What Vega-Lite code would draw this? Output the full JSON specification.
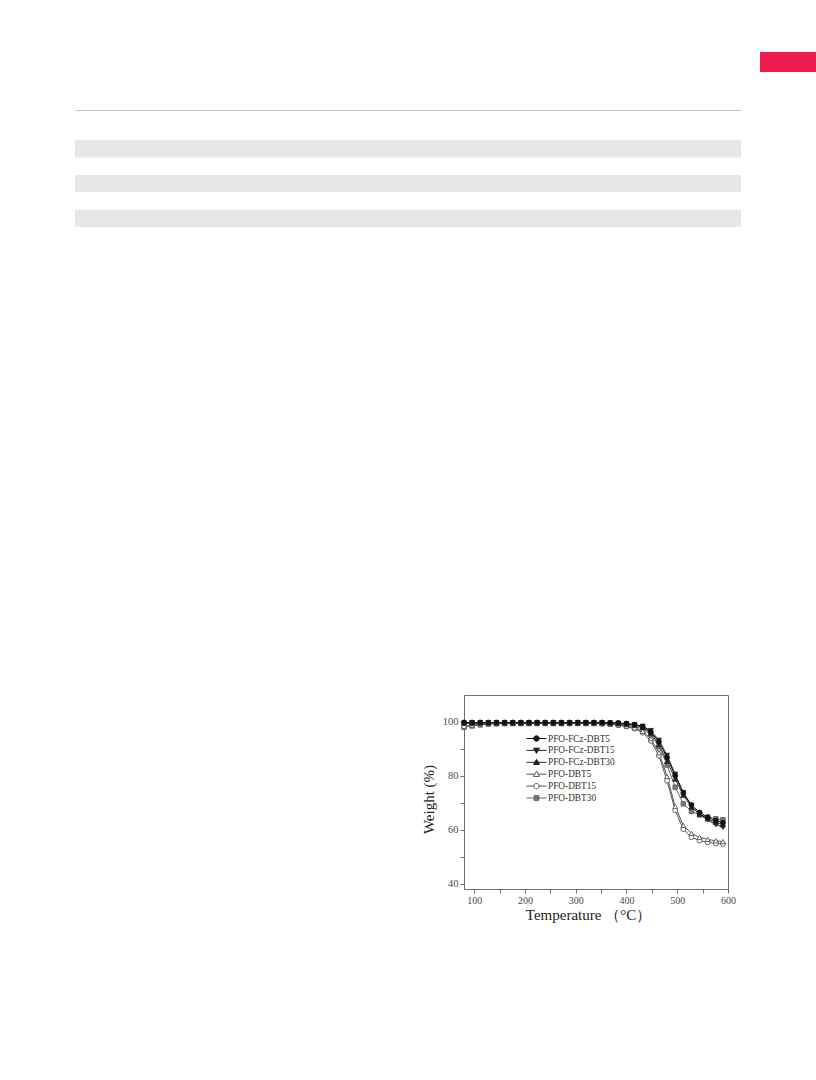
{
  "$schema": "https://vega.github.io/schema/vega-lite/v6.json",
  "background": "#ffffff",
  "padding": {"left": 0, "top": 52, "right": 0, "bottom": 0},
  "config": {
    "view": {"stroke": null},
    "font": "Liberation Serif"
  },
  "bounds": "flush",
  "spacing": 71,
  "resolve": {"scale": {"stroke": "independent"}, "legend": {"stroke": "independent"}},
  "vconcat": [
    {
      "bounds": "flush",
      "spacing": 0,
      "hconcat": [
        {
          "width": 760, "height": 20,
          "data": {"values": [{}]},
          "mark": {"type": "point", "opacity": 0},
          "encoding": {}
        },
        {
          "width": 56, "height": 20,
          "view": {"fill": "#ED1C4E", "stroke": null},
          "data": {"values": [{}]},
          "mark": {"type": "point", "opacity": 0},
          "encoding": {}
        }
      ]
    },
    {
      "bounds": "flush",
      "spacing": 572,
      "resolve": {"scale": {"stroke": "independent"}, "legend": {"stroke": "independent"}},
      "vconcat": [
        {
          "bounds": "flush",
          "spacing": 0,
          "hconcat": [
            {
              "width": 75, "height": 1,
              "data": {"values": [{}]},
              "mark": {"type": "point", "opacity": 0},
              "encoding": {}
            },
            {
              "width": 666, "height": 104,
              "data": {"values": [{"row": 1}, {"row": 2}, {"row": 3}, {"row": 4}, {"row": 5}, {"row": 6}]},
              "mark": {"type": "rect"},
              "encoding": {
                "y": {"field": "row", "type": "ordinal", "scale": {"paddingInner": 0, "paddingOuter": 0}, "axis": null},
                "x": {
                  "datum": 0, "type": "quantitative",
                  "scale": {"domain": [0, 1]},
                  "axis": {"orient": "top", "offset": 13, "ticks": false, "labels": false, "title": null, "grid": false, "domainColor": "#c6c6c6", "domainWidth": 1}
                },
                "x2": {"datum": 1},
                "fill": {"condition": {"test": "datum.row % 2 == 0", "value": "#e6e6e6"}, "value": "#ffffff"}
              }
            }
          ]
        },
        {
          "bounds": "flush",
          "spacing": 0,
          "resolve": {"scale": {"stroke": "independent"}, "legend": {"stroke": "independent"}},
          "hconcat": [
            {
              "width": 464, "height": 1,
              "data": {"values": [{}]},
              "mark": {"type": "point", "opacity": 0},
              "encoding": {}
            },
            {
              "width": 264, "height": 194,
              "view": {"stroke": "#6e6e6e", "strokeWidth": 1},
              "data": {"values": [
                {"series": "PFO-DBT30", "temp": 80, "weight": 98.0}, {"series": "PFO-DBT30", "temp": 96, "weight": 98.5}, {"series": "PFO-DBT30", "temp": 112, "weight": 98.9}, {"series": "PFO-DBT30", "temp": 128, "weight": 99.2}, {"series": "PFO-DBT30", "temp": 144, "weight": 99.3}, {"series": "PFO-DBT30", "temp": 160, "weight": 99.4}, {"series": "PFO-DBT30", "temp": 176, "weight": 99.4}, {"series": "PFO-DBT30", "temp": 192, "weight": 99.4}, {"series": "PFO-DBT30", "temp": 208, "weight": 99.4}, {"series": "PFO-DBT30", "temp": 224, "weight": 99.4}, {"series": "PFO-DBT30", "temp": 240, "weight": 99.4}, {"series": "PFO-DBT30", "temp": 256, "weight": 99.4}, {"series": "PFO-DBT30", "temp": 272, "weight": 99.4}, {"series": "PFO-DBT30", "temp": 288, "weight": 99.4}, {"series": "PFO-DBT30", "temp": 304, "weight": 99.4}, {"series": "PFO-DBT30", "temp": 320, "weight": 99.4}, {"series": "PFO-DBT30", "temp": 336, "weight": 99.4}, {"series": "PFO-DBT30", "temp": 352, "weight": 99.4}, {"series": "PFO-DBT30", "temp": 368, "weight": 99.3}, {"series": "PFO-DBT30", "temp": 384, "weight": 99.1}, {"series": "PFO-DBT30", "temp": 400, "weight": 98.8}, {"series": "PFO-DBT30", "temp": 416, "weight": 98.3}, {"series": "PFO-DBT30", "temp": 432, "weight": 97.4}, {"series": "PFO-DBT30", "temp": 448, "weight": 95.2}, {"series": "PFO-DBT30", "temp": 464, "weight": 90.8}, {"series": "PFO-DBT30", "temp": 480, "weight": 84.0}, {"series": "PFO-DBT30", "temp": 496, "weight": 75.8}, {"series": "PFO-DBT30", "temp": 512, "weight": 69.6}, {"series": "PFO-DBT30", "temp": 528, "weight": 66.8}, {"series": "PFO-DBT30", "temp": 544, "weight": 65.5}, {"series": "PFO-DBT30", "temp": 560, "weight": 64.7}, {"series": "PFO-DBT30", "temp": 576, "weight": 64.1}, {"series": "PFO-DBT30", "temp": 590, "weight": 63.7},

                {"series": "PFO-DBT15", "temp": 80, "weight": 98.4}, {"series": "PFO-DBT15", "temp": 96, "weight": 98.9}, {"series": "PFO-DBT15", "temp": 112, "weight": 99.2}, {"series": "PFO-DBT15", "temp": 128, "weight": 99.4}, {"series": "PFO-DBT15", "temp": 144, "weight": 99.5}, {"series": "PFO-DBT15", "temp": 160, "weight": 99.5}, {"series": "PFO-DBT15", "temp": 176, "weight": 99.5}, {"series": "PFO-DBT15", "temp": 192, "weight": 99.5}, {"series": "PFO-DBT15", "temp": 208, "weight": 99.5}, {"series": "PFO-DBT15", "temp": 224, "weight": 99.5}, {"series": "PFO-DBT15", "temp": 240, "weight": 99.5}, {"series": "PFO-DBT15", "temp": 256, "weight": 99.5}, {"series": "PFO-DBT15", "temp": 272, "weight": 99.5}, {"series": "PFO-DBT15", "temp": 288, "weight": 99.5}, {"series": "PFO-DBT15", "temp": 304, "weight": 99.5}, {"series": "PFO-DBT15", "temp": 320, "weight": 99.5}, {"series": "PFO-DBT15", "temp": 336, "weight": 99.5}, {"series": "PFO-DBT15", "temp": 352, "weight": 99.4}, {"series": "PFO-DBT15", "temp": 368, "weight": 99.2}, {"series": "PFO-DBT15", "temp": 384, "weight": 98.8}, {"series": "PFO-DBT15", "temp": 400, "weight": 98.3}, {"series": "PFO-DBT15", "temp": 416, "weight": 97.5}, {"series": "PFO-DBT15", "temp": 432, "weight": 96.0}, {"series": "PFO-DBT15", "temp": 448, "weight": 93.0}, {"series": "PFO-DBT15", "temp": 464, "weight": 87.4}, {"series": "PFO-DBT15", "temp": 480, "weight": 78.2}, {"series": "PFO-DBT15", "temp": 496, "weight": 67.2}, {"series": "PFO-DBT15", "temp": 512, "weight": 60.2}, {"series": "PFO-DBT15", "temp": 528, "weight": 57.2}, {"series": "PFO-DBT15", "temp": 544, "weight": 56.0}, {"series": "PFO-DBT15", "temp": 560, "weight": 55.3}, {"series": "PFO-DBT15", "temp": 576, "weight": 54.9}, {"series": "PFO-DBT15", "temp": 590, "weight": 54.7},

                {"series": "PFO-DBT5", "temp": 80, "weight": 99.4}, {"series": "PFO-DBT5", "temp": 96, "weight": 99.5}, {"series": "PFO-DBT5", "temp": 112, "weight": 99.5}, {"series": "PFO-DBT5", "temp": 128, "weight": 99.5}, {"series": "PFO-DBT5", "temp": 144, "weight": 99.5}, {"series": "PFO-DBT5", "temp": 160, "weight": 99.5}, {"series": "PFO-DBT5", "temp": 176, "weight": 99.5}, {"series": "PFO-DBT5", "temp": 192, "weight": 99.5}, {"series": "PFO-DBT5", "temp": 208, "weight": 99.5}, {"series": "PFO-DBT5", "temp": 224, "weight": 99.5}, {"series": "PFO-DBT5", "temp": 240, "weight": 99.5}, {"series": "PFO-DBT5", "temp": 256, "weight": 99.5}, {"series": "PFO-DBT5", "temp": 272, "weight": 99.5}, {"series": "PFO-DBT5", "temp": 288, "weight": 99.5}, {"series": "PFO-DBT5", "temp": 304, "weight": 99.5}, {"series": "PFO-DBT5", "temp": 320, "weight": 99.5}, {"series": "PFO-DBT5", "temp": 336, "weight": 99.5}, {"series": "PFO-DBT5", "temp": 352, "weight": 99.4}, {"series": "PFO-DBT5", "temp": 368, "weight": 99.2}, {"series": "PFO-DBT5", "temp": 384, "weight": 98.9}, {"series": "PFO-DBT5", "temp": 400, "weight": 98.5}, {"series": "PFO-DBT5", "temp": 416, "weight": 97.8}, {"series": "PFO-DBT5", "temp": 432, "weight": 96.5}, {"series": "PFO-DBT5", "temp": 448, "weight": 93.8}, {"series": "PFO-DBT5", "temp": 464, "weight": 88.6}, {"series": "PFO-DBT5", "temp": 480, "weight": 79.8}, {"series": "PFO-DBT5", "temp": 496, "weight": 68.6}, {"series": "PFO-DBT5", "temp": 512, "weight": 61.6}, {"series": "PFO-DBT5", "temp": 528, "weight": 58.6}, {"series": "PFO-DBT5", "temp": 544, "weight": 57.2}, {"series": "PFO-DBT5", "temp": 560, "weight": 56.4}, {"series": "PFO-DBT5", "temp": 576, "weight": 55.9}, {"series": "PFO-DBT5", "temp": 590, "weight": 55.6},

                {"series": "PFO-FCz-DBT30", "temp": 80, "weight": 99.7}, {"series": "PFO-FCz-DBT30", "temp": 96, "weight": 99.7}, {"series": "PFO-FCz-DBT30", "temp": 112, "weight": 99.7}, {"series": "PFO-FCz-DBT30", "temp": 128, "weight": 99.7}, {"series": "PFO-FCz-DBT30", "temp": 144, "weight": 99.7}, {"series": "PFO-FCz-DBT30", "temp": 160, "weight": 99.7}, {"series": "PFO-FCz-DBT30", "temp": 176, "weight": 99.7}, {"series": "PFO-FCz-DBT30", "temp": 192, "weight": 99.7}, {"series": "PFO-FCz-DBT30", "temp": 208, "weight": 99.7}, {"series": "PFO-FCz-DBT30", "temp": 224, "weight": 99.7}, {"series": "PFO-FCz-DBT30", "temp": 240, "weight": 99.7}, {"series": "PFO-FCz-DBT30", "temp": 256, "weight": 99.7}, {"series": "PFO-FCz-DBT30", "temp": 272, "weight": 99.7}, {"series": "PFO-FCz-DBT30", "temp": 288, "weight": 99.7}, {"series": "PFO-FCz-DBT30", "temp": 304, "weight": 99.7}, {"series": "PFO-FCz-DBT30", "temp": 320, "weight": 99.7}, {"series": "PFO-FCz-DBT30", "temp": 336, "weight": 99.7}, {"series": "PFO-FCz-DBT30", "temp": 352, "weight": 99.7}, {"series": "PFO-FCz-DBT30", "temp": 368, "weight": 99.6}, {"series": "PFO-FCz-DBT30", "temp": 384, "weight": 99.4}, {"series": "PFO-FCz-DBT30", "temp": 400, "weight": 99.2}, {"series": "PFO-FCz-DBT30", "temp": 416, "weight": 98.8}, {"series": "PFO-FCz-DBT30", "temp": 432, "weight": 98.0}, {"series": "PFO-FCz-DBT30", "temp": 448, "weight": 95.8}, {"series": "PFO-FCz-DBT30", "temp": 464, "weight": 91.6}, {"series": "PFO-FCz-DBT30", "temp": 480, "weight": 85.4}, {"series": "PFO-FCz-DBT30", "temp": 496, "weight": 78.8}, {"series": "PFO-FCz-DBT30", "temp": 512, "weight": 72.8}, {"series": "PFO-FCz-DBT30", "temp": 528, "weight": 68.4}, {"series": "PFO-FCz-DBT30", "temp": 544, "weight": 65.8}, {"series": "PFO-FCz-DBT30", "temp": 560, "weight": 64.1}, {"series": "PFO-FCz-DBT30", "temp": 576, "weight": 62.7}, {"series": "PFO-FCz-DBT30", "temp": 590, "weight": 61.8},

                {"series": "PFO-FCz-DBT15", "temp": 80, "weight": 99.6}, {"series": "PFO-FCz-DBT15", "temp": 96, "weight": 99.7}, {"series": "PFO-FCz-DBT15", "temp": 112, "weight": 99.7}, {"series": "PFO-FCz-DBT15", "temp": 128, "weight": 99.7}, {"series": "PFO-FCz-DBT15", "temp": 144, "weight": 99.7}, {"series": "PFO-FCz-DBT15", "temp": 160, "weight": 99.7}, {"series": "PFO-FCz-DBT15", "temp": 176, "weight": 99.7}, {"series": "PFO-FCz-DBT15", "temp": 192, "weight": 99.7}, {"series": "PFO-FCz-DBT15", "temp": 208, "weight": 99.7}, {"series": "PFO-FCz-DBT15", "temp": 224, "weight": 99.7}, {"series": "PFO-FCz-DBT15", "temp": 240, "weight": 99.7}, {"series": "PFO-FCz-DBT15", "temp": 256, "weight": 99.7}, {"series": "PFO-FCz-DBT15", "temp": 272, "weight": 99.7}, {"series": "PFO-FCz-DBT15", "temp": 288, "weight": 99.7}, {"series": "PFO-FCz-DBT15", "temp": 304, "weight": 99.7}, {"series": "PFO-FCz-DBT15", "temp": 320, "weight": 99.7}, {"series": "PFO-FCz-DBT15", "temp": 336, "weight": 99.7}, {"series": "PFO-FCz-DBT15", "temp": 352, "weight": 99.7}, {"series": "PFO-FCz-DBT15", "temp": 368, "weight": 99.6}, {"series": "PFO-FCz-DBT15", "temp": 384, "weight": 99.5}, {"series": "PFO-FCz-DBT15", "temp": 400, "weight": 99.3}, {"series": "PFO-FCz-DBT15", "temp": 416, "weight": 99.0}, {"series": "PFO-FCz-DBT15", "temp": 432, "weight": 98.4}, {"series": "PFO-FCz-DBT15", "temp": 448, "weight": 96.8}, {"series": "PFO-FCz-DBT15", "temp": 464, "weight": 93.2}, {"series": "PFO-FCz-DBT15", "temp": 480, "weight": 87.6}, {"series": "PFO-FCz-DBT15", "temp": 496, "weight": 80.6}, {"series": "PFO-FCz-DBT15", "temp": 512, "weight": 73.8}, {"series": "PFO-FCz-DBT15", "temp": 528, "weight": 68.8}, {"series": "PFO-FCz-DBT15", "temp": 544, "weight": 65.6}, {"series": "PFO-FCz-DBT15", "temp": 560, "weight": 63.6}, {"series": "PFO-FCz-DBT15", "temp": 576, "weight": 61.9}, {"series": "PFO-FCz-DBT15", "temp": 590, "weight": 60.9},

                {"series": "PFO-FCz-DBT5", "temp": 80, "weight": 99.8}, {"series": "PFO-FCz-DBT5", "temp": 96, "weight": 99.8}, {"series": "PFO-FCz-DBT5", "temp": 112, "weight": 99.8}, {"series": "PFO-FCz-DBT5", "temp": 128, "weight": 99.8}, {"series": "PFO-FCz-DBT5", "temp": 144, "weight": 99.8}, {"series": "PFO-FCz-DBT5", "temp": 160, "weight": 99.8}, {"series": "PFO-FCz-DBT5", "temp": 176, "weight": 99.8}, {"series": "PFO-FCz-DBT5", "temp": 192, "weight": 99.8}, {"series": "PFO-FCz-DBT5", "temp": 208, "weight": 99.8}, {"series": "PFO-FCz-DBT5", "temp": 224, "weight": 99.8}, {"series": "PFO-FCz-DBT5", "temp": 240, "weight": 99.8}, {"series": "PFO-FCz-DBT5", "temp": 256, "weight": 99.8}, {"series": "PFO-FCz-DBT5", "temp": 272, "weight": 99.8}, {"series": "PFO-FCz-DBT5", "temp": 288, "weight": 99.8}, {"series": "PFO-FCz-DBT5", "temp": 304, "weight": 99.8}, {"series": "PFO-FCz-DBT5", "temp": 320, "weight": 99.8}, {"series": "PFO-FCz-DBT5", "temp": 336, "weight": 99.8}, {"series": "PFO-FCz-DBT5", "temp": 352, "weight": 99.8}, {"series": "PFO-FCz-DBT5", "temp": 368, "weight": 99.7}, {"series": "PFO-FCz-DBT5", "temp": 384, "weight": 99.6}, {"series": "PFO-FCz-DBT5", "temp": 400, "weight": 99.4}, {"series": "PFO-FCz-DBT5", "temp": 416, "weight": 99.0}, {"series": "PFO-FCz-DBT5", "temp": 432, "weight": 98.2}, {"series": "PFO-FCz-DBT5", "temp": 448, "weight": 96.3}, {"series": "PFO-FCz-DBT5", "temp": 464, "weight": 92.6}, {"series": "PFO-FCz-DBT5", "temp": 480, "weight": 86.8}, {"series": "PFO-FCz-DBT5", "temp": 496, "weight": 80.0}, {"series": "PFO-FCz-DBT5", "temp": 512, "weight": 73.6}, {"series": "PFO-FCz-DBT5", "temp": 528, "weight": 69.2}, {"series": "PFO-FCz-DBT5", "temp": 544, "weight": 66.4}, {"series": "PFO-FCz-DBT5", "temp": 560, "weight": 64.6}, {"series": "PFO-FCz-DBT5", "temp": 576, "weight": 63.4}, {"series": "PFO-FCz-DBT5", "temp": 590, "weight": 62.6}
              ]},
              "encoding": {
                "x": {
                  "field": "temp", "type": "quantitative",
                  "scale": {"domain": [80, 600], "nice": false, "zero": false},
                  "axis": {
                    "values": [100, 150, 200, 250, 300, 350, 400, 450, 500, 550, 600],
                    "labelExpr": "datum.value % 100 == 0 ? datum.label : ''",
                    "title": "Temperature （°C）",
                    "grid": false, "labelFlush": false, "labelOverlap": false,
                    "labelFont": "Liberation Serif", "labelFontSize": 10, "labelColor": "#4a4a4a", "labelPadding": 2,
                    "tickSize": 4, "tickColor": "#6e6e6e", "domainColor": "#6e6e6e",
                    "titleFont": "Liberation Serif", "titleFontSize": 15, "titleFontWeight": "normal", "titleColor": "#222222",
                    "titlePadding": 2, "titleX": 124
                  }
                },
                "y": {
                  "field": "weight", "type": "quantitative",
                  "scale": {"domain": [38, 110], "nice": false, "zero": false},
                  "axis": {
                    "values": [40, 50, 60, 70, 80, 90, 100],
                    "labelExpr": "datum.value % 20 == 0 ? datum.label : ''",
                    "title": "Weight (%)",
                    "grid": false, "labelFlush": false, "labelOverlap": false,
                    "labelFont": "Liberation Serif", "labelFontSize": 10.5, "labelColor": "#4a4a4a", "labelPadding": 2,
                    "tickSize": 4, "tickColor": "#6e6e6e", "domainColor": "#6e6e6e",
                    "titleFont": "Liberation Serif", "titleFontSize": 15, "titleFontWeight": "normal", "titleColor": "#222222",
                    "titlePadding": 6, "titleY": 104
                  }
                },
                "stroke": {
                  "field": "series", "type": "nominal",
                  "scale": {
                    "domain": ["PFO-FCz-DBT5", "PFO-FCz-DBT15", "PFO-FCz-DBT30", "PFO-DBT5", "PFO-DBT15", "PFO-DBT30"],
                    "range": ["#111111", "#262626", "#262626", "#555555", "#555555", "#666666"]
                  },
                  "legend": {
                    "orient": "none", "legendX": 67, "legendY": 38,
                    "title": null, "padding": 0,
                    "symbolSize": 100, "symbolStrokeWidth": 1,
                    "labelFont": "Liberation Serif", "labelFontSize": 9.3, "labelColor": "#333333",
                    "labelOffset": 6, "rowPadding": 0.9,
                    "encode": {
                      "symbols": {
                        "update": {
                          "shape": {"signal": "datum.value === 'PFO-FCz-DBT5' ? 'M-2,0H2M0.54,0A0.54,0.54,0,1,1,-0.54,0A0.54,0.54,0,1,1,0.54,0Z' : datum.value === 'PFO-FCz-DBT15' ? 'M-2,0H2M0,0.6L0.6,-0.44L-0.6,-0.44Z' : datum.value === 'PFO-FCz-DBT30' ? 'M-2,0H2M0,-0.6L0.6,0.44L-0.6,0.44Z' : datum.value === 'PFO-DBT5' ? 'M-2,0H-0.35M0.35,0H2M0,-0.6L0.6,0.44L-0.6,0.44Z' : datum.value === 'PFO-DBT15' ? 'M-2,0H-0.54M0.54,0H2M0.54,0A0.54,0.54,0,1,1,-0.54,0A0.54,0.54,0,1,1,0.54,0Z' : 'M-2,0H2M-0.48,-0.48H0.48V0.48H-0.48Z'"},
                          "fill": {"signal": "datum.value === 'PFO-DBT5' || datum.value === 'PFO-DBT15' ? '#ffffff' : datum.value === 'PFO-DBT30' ? '#777777' : '#1a1a1a'"},
                          "fillOpacity": {"value": 1}
                        }
                      }
                    }
                  }
                }
              },
              "layer": [
                {
                  "mark": {"type": "line", "strokeWidth": 1}
                },
                {
                  "transform": [{"filter": {"field": "series", "equal": "PFO-DBT30"}}],
                  "mark": {"type": "point", "shape": "square", "filled": true, "fill": "#777777", "opacity": 1, "size": 20, "strokeWidth": 0.9}
                },
                {
                  "transform": [{"filter": {"field": "series", "equal": "PFO-DBT15"}}],
                  "mark": {"type": "point", "shape": "circle", "filled": true, "fill": "#ffffff", "opacity": 1, "size": 24, "strokeWidth": 0.9}
                },
                {
                  "transform": [{"filter": {"field": "series", "equal": "PFO-DBT5"}}],
                  "mark": {"type": "point", "shape": "triangle-up", "filled": true, "fill": "#ffffff", "opacity": 1, "size": 24, "strokeWidth": 0.9}
                },
                {
                  "transform": [{"filter": {"field": "series", "equal": "PFO-FCz-DBT30"}}],
                  "mark": {"type": "point", "shape": "triangle-up", "filled": true, "fill": "#262626", "opacity": 1, "size": 24, "strokeWidth": 0.9}
                },
                {
                  "transform": [{"filter": {"field": "series", "equal": "PFO-FCz-DBT15"}}],
                  "mark": {"type": "point", "shape": "triangle-down", "filled": true, "fill": "#262626", "opacity": 1, "size": 24, "strokeWidth": 0.9}
                },
                {
                  "transform": [{"filter": {"field": "series", "equal": "PFO-FCz-DBT5"}}],
                  "mark": {"type": "point", "shape": "circle", "filled": true, "fill": "#111111", "opacity": 1, "size": 24, "strokeWidth": 0.9}
                }
              ]
            }
          ]
        }
      ]
    }
  ]
}
